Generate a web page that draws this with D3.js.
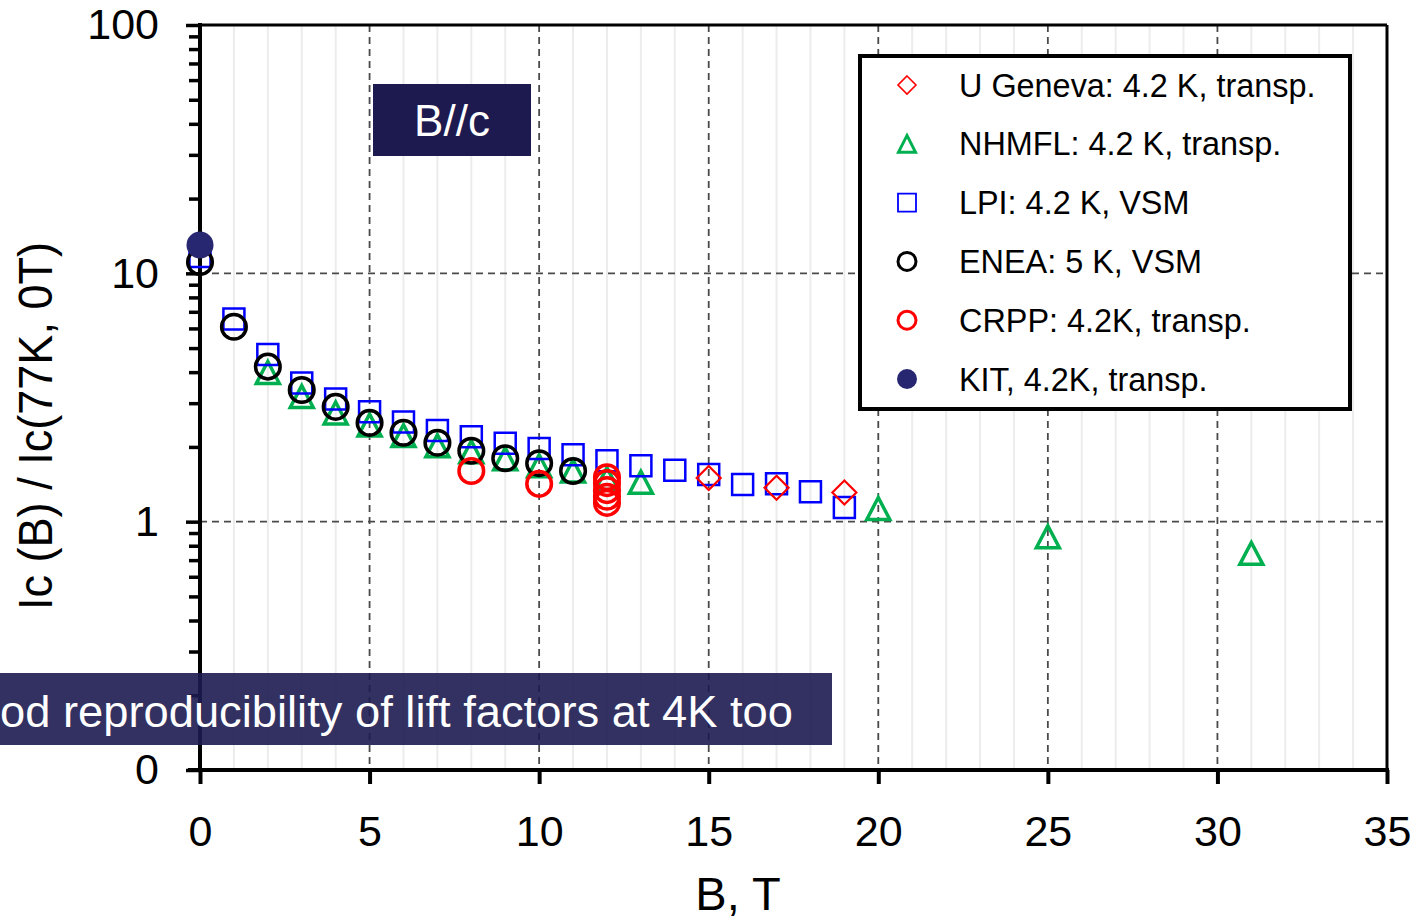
<!DOCTYPE html>
<html>
<head>
<meta charset="utf-8">
<script src="https://cdn.jsdelivr.net/npm/d3@7"></script>
<style>
  html, body { margin: 0; padding: 0; background: #fff; }
  svg { display: block; font-family: "Liberation Sans", Arial, sans-serif; }
</style>
</head>
<body>
<svg id="chart" width="1417" height="922"></svg>
<script>
// Lift factor Ic(B)/Ic(77K,0T) versus field, B parallel to c
const xTicks = [0, 5, 10, 15, 20, 25, 30, 35];
const yTicks = [0.1, 1, 10, 100];
const yTickLabels = ["0", "1", "10", "100"];

const genevaB = [15, 17, 19];
const genevaLift = [1.50, 1.37, 1.31];

const nhmflB = [2, 3, 4, 5, 6, 7, 8, 9, 10, 11, 12, 13, 20, 25, 31];
const nhmflLift = [3.99, 3.19, 2.74, 2.45, 2.22, 2.02, 1.91, 1.79, 1.68, 1.60, 1.49, 1.44, 1.13, 0.87, 0.745];

const lpiB = [0, 1, 2, 3, 4, 5, 6, 7, 8, 9, 10, 11, 12, 13, 14, 15, 16, 17, 18, 19];
const lpiLift = [11.7, 6.55, 4.71, 3.62, 3.12, 2.77, 2.52, 2.33, 2.20, 2.07, 1.97, 1.86, 1.76, 1.68, 1.61, 1.55, 1.41, 1.42, 1.32, 1.14];

const eneaB = [0, 1, 2, 3, 4, 5, 6, 7, 8, 9, 10, 11];
const eneaLift = [11.1, 6.09, 4.21, 3.39, 2.90, 2.50, 2.28, 2.08, 1.93, 1.80, 1.72, 1.60];

const crppB = [8, 10, 12, 12, 12, 12, 12];
const crppLift = [1.60, 1.42, 1.51, 1.43, 1.34, 1.26, 1.19];

const kitB = [0];
const kitLift = [13.0];

const legendLabels = [
  "U Geneva: 4.2 K, transp.",
  "NHMFL: 4.2 K, transp.",
  "LPI: 4.2 K, VSM",
  "ENEA: 5 K, VSM",
  "CRPP: 4.2K, transp.",
  "KIT, 4.2K, transp."
];

const svg = d3.select("#chart");
const plotL = 200, plotR = 1387, plotT = 25, plotB = 770;

const x = d3.scaleLinear().domain([0, 35]).range([plotL, plotR]);
const y = d3.scaleLog().domain([0.1, 100]).range([plotB, plotT]);

// minor vertical grid, one line per tesla
const grid = svg.append("g");
grid.append("g").selectAll("line")
  .data(d3.range(1, 35).filter(v => v % 5 !== 0))
  .join("line")
  .attr("x1", d => x(d)).attr("x2", d => x(d))
  .attr("y1", plotT).attr("y2", plotB)
  .attr("stroke", "#ececec").attr("stroke-width", 2);

// major dashed grid
grid.append("g").selectAll("line")
  .data(xTicks.filter(v => v > 0 && v < 35))
  .join("line")
  .attr("x1", d => x(d)).attr("x2", d => x(d))
  .attr("y1", plotT).attr("y2", plotB)
  .attr("stroke", "#4a4a4a").attr("stroke-width", 1.8)
  .attr("stroke-dasharray", "7,5");

grid.append("g").selectAll("line")
  .data([1, 10])
  .join("line")
  .attr("x1", plotL).attr("x2", plotR)
  .attr("y1", d => y(d)).attr("y2", d => y(d))
  .attr("stroke", "#4a4a4a").attr("stroke-width", 1.8)
  .attr("stroke-dasharray", "7,5");

// frame top/right
svg.append("line").attr("x1", plotL).attr("x2", plotR).attr("y1", plotT).attr("y2", plotT)
  .attr("stroke", "#000").attr("stroke-width", 3);
svg.append("line").attr("x1", plotR).attr("x2", plotR).attr("y1", plotT).attr("y2", plotB)
  .attr("stroke", "#000").attr("stroke-width", 3);

// y axis with minor decade ticks
const yMinor = [];
[0.1, 1, 10].forEach(d => { for (let k = 2; k <= 9; k++) yMinor.push(+(d * k).toPrecision(3)); });
svg.append("g").attr("transform", `translate(${plotL},0)`)
  .call(d3.axisLeft(y).tickValues(yMinor).tickSize(11).tickFormat(""))
  .call(g => g.select(".domain").remove())
  .call(g => g.selectAll("line").attr("stroke", "#000").attr("stroke-width", 3.5));
svg.append("g").attr("transform", `translate(${plotL},0)`)
  .call(d3.axisLeft(y).tickValues(yTicks).tickSize(14).tickPadding(27)
    .tickFormat((d, i) => yTickLabels[i]))
  .call(g => g.select(".domain").remove())
  .call(g => g.selectAll("line").attr("stroke", "#000").attr("stroke-width", 3.5))
  .call(g => g.selectAll("text").attr("font-size", 43).attr("fill", "#000")
    .attr("font-family", "Liberation Sans, Arial, sans-serif"));
svg.append("line").attr("x1", plotL).attr("x2", plotL).attr("y1", plotT - 2).attr("y2", plotB + 2)
  .attr("stroke", "#000").attr("stroke-width", 4);

// x axis
svg.append("g").attr("transform", `translate(0,${plotB})`)
  .call(d3.axisBottom(x).tickValues(xTicks).tickSize(14).tickPadding(31).tickFormat(d3.format("d")))
  .call(g => g.select(".domain").remove())
  .call(g => g.selectAll("line").attr("stroke", "#000").attr("stroke-width", 4))
  .call(g => g.selectAll("text").attr("font-size", 43).attr("fill", "#000")
    .attr("font-family", "Liberation Sans, Arial, sans-serif"));
svg.append("line").attr("x1", plotL - 12).attr("x2", plotR + 2).attr("y1", plotB).attr("y2", plotB)
  .attr("stroke", "#000").attr("stroke-width", 4);

// axis titles
svg.append("text").attr("x", 738).attr("y", 910).attr("text-anchor", "middle")
  .attr("font-size", 47).attr("fill", "#000").text("B, T");
svg.append("text")
  .attr("transform", "translate(52,426) rotate(-90)")
  .attr("text-anchor", "middle").attr("font-size", 48).attr("fill", "#000")
  .attr("textLength", 368).attr("lengthAdjust", "spacingAndGlyphs")
  .text("Ic (B) / Ic(77K, 0T)");

// B//c label
svg.append("rect").attr("x", 373).attr("y", 84).attr("width", 158).attr("height", 72).attr("fill", "#1c1a4f");
svg.append("text").attr("x", 452).attr("y", 136).attr("text-anchor", "middle")
  .attr("font-size", 44).attr("fill", "#fff").text("B//c");

// marker helpers
const sym = (type, size) => d3.symbol().type(type).size(size)();
const marks = svg.append("g");

function plot(bs, vals, draw) {
  return marks.append("g").selectAll("path")
    .data(bs.map((b, i) => ({ b, v: vals[i] })))
    .join("path")
    .attr("transform", d => `translate(${x(d.b)},${y(d.v)})`)
    .call(draw);
}

// NHMFL triangles
const triPath = (s) => {
  const h = s * Math.sqrt(3) / 2;
  return `M0,${-h / 2 - 1}L${s / 2},${h / 2 + 1}L${-s / 2},${h / 2 + 1}Z`;
};
plot(nhmflB, nhmflLift, p => p.attr("d", triPath(23)).attr("fill", "none")
  .attr("stroke", "#00b050").attr("stroke-width", 3.5).attr("stroke-linejoin", "miter"));

// LPI squares
plot(lpiB, lpiLift, p => p.attr("d", "M-10.5,-10.5H10.5V10.5H-10.5Z").attr("fill", "none")
  .attr("stroke", "#0000ff").attr("stroke-width", 2.5));

// U Geneva diamonds
plot(genevaB, genevaLift, p => p.attr("d", "M0,-12L12,0L0,12L-12,0Z").attr("fill", "none")
  .attr("stroke", "#ff0000").attr("stroke-width", 2.2));

// ENEA circles
plot(eneaB, eneaLift, p => p.attr("d", sym(d3.symbolCircle, Math.PI * 12.3 * 12.3)).attr("fill", "none")
  .attr("stroke", "#000").attr("stroke-width", 3.5));

// CRPP circles
plot(crppB, crppLift, p => p.attr("d", sym(d3.symbolCircle, Math.PI * 12.3 * 12.3)).attr("fill", "none")
  .attr("stroke", "#ff0000").attr("stroke-width", 3.5));

// KIT filled circle
plot(kitB, kitLift, p => p.attr("d", sym(d3.symbolCircle, Math.PI * 13.5 * 13.5)).attr("fill", "#262671"));

// legend
const lg = svg.append("g");
lg.append("rect").attr("x", 860).attr("y", 56).attr("width", 490).attr("height", 353)
  .attr("fill", "#fff").attr("stroke", "#000").attr("stroke-width", 4);
const rowY = i => 85 + i * 58.8;
const legendSyms = [
  g => g.append("path").attr("d", "M0,-9L9,0L0,9L-9,0Z").attr("fill", "none").attr("stroke", "#ff0000").attr("stroke-width", 1.6),
  g => g.append("path").attr("d", triPath(17)).attr("fill", "none").attr("stroke", "#00b050").attr("stroke-width", 3),
  g => g.append("path").attr("d", "M-9,-9H9V9H-9Z").attr("fill", "none").attr("stroke", "#0000ff").attr("stroke-width", 1.8),
  g => g.append("circle").attr("r", 9).attr("fill", "none").attr("stroke", "#000").attr("stroke-width", 3),
  g => g.append("circle").attr("r", 9).attr("fill", "none").attr("stroke", "#ff0000").attr("stroke-width", 3),
  g => g.append("circle").attr("r", 10).attr("fill", "#262671")
];
legendLabels.forEach((lab, i) => {
  const g = lg.append("g").attr("transform", `translate(907,${rowY(i)})`);
  legendSyms[i](g);
  lg.append("text").attr("x", 959).attr("y", rowY(i) + 11.5).attr("font-size", 32.4).attr("fill", "#000").text(lab);
});

// banner
svg.append("rect").attr("x", 0).attr("y", 673).attr("width", 832).attr("height", 72)
  .attr("fill", "#1c1b50").attr("fill-opacity", 0.9);
svg.append("text").attr("x", 793).attr("y", 727).attr("text-anchor", "end")
  .attr("font-size", 45).attr("fill", "#fff")
  .attr("textLength", 793).attr("lengthAdjust", "spacingAndGlyphs")
  .text("od reproducibility of lift factors at 4K too");
</script>
</body>
</html>
